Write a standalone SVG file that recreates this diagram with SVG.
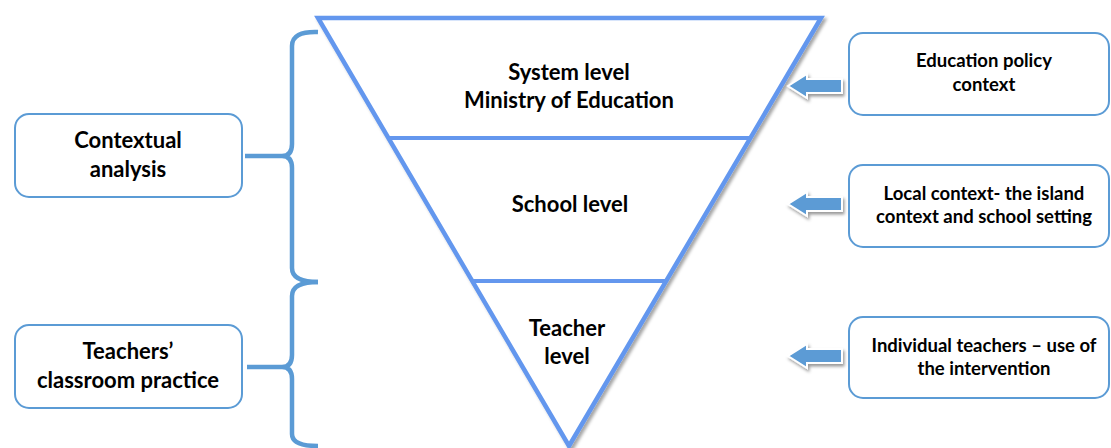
<svg xmlns="http://www.w3.org/2000/svg" width="1111" height="448" viewBox="0 0 1111 448">
  <defs>
    <filter id="shadow" x="-10%" y="-10%" width="130%" height="130%">
      <feDropShadow dx="2.5" dy="2.5" stdDeviation="1.8" flood-color="#000" flood-opacity="0.35"/>
    </filter>
    <filter id="ashadow" x="-30%" y="-40%" width="170%" height="200%">
      <feDropShadow dx="1.5" dy="2.5" stdDeviation="1.8" flood-color="#000" flood-opacity="0.4"/>
    </filter>
  </defs>
  <style>
    .box { fill: #fff; stroke: #5B9BD5; stroke-width: 2; }
    .tri { fill: #fff; stroke: #6497EE; stroke-width: 4.5; stroke-linejoin: miter; }
    .div { stroke: #6497EE; stroke-width: 4; fill: none; }
    .brace { fill: none; stroke: #5B9BD5; stroke-width: 4.5; stroke-linecap: butt; stroke-linejoin: round; }
    .arrow { fill: #5B9BD5; stroke: #fff; stroke-width: 2; }
    text { font-family: Lato, "Open Sans", "Liberation Sans", sans-serif; font-weight: bold; fill: #000; text-anchor: middle; }
    .big { font-size: 22px; }
    .small { font-size: 18.5px; }
  </style>

  <g id="pyramid">
    <polygon class="tri" points="318,18 821,18 569,446" filter="url(#shadow)"/>
    <line class="div" x1="388" y1="138" x2="750" y2="138"/>
    <line class="div" x1="472" y1="281" x2="666" y2="281"/>
  </g>
  <g id="system-level">
    <text class="big" x="569" y="80">System level</text>
    <text class="big" x="569" y="108">Ministry of Education</text>
  </g>
  <g id="school-level">
    <text class="big" x="570" y="212">School level</text>
  </g>
  <g id="teacher-level">
    <text class="big" x="567" y="336">Teacher</text>
    <text class="big" x="567" y="364">level</text>
  </g>

  <g id="contextual-analysis">
    <rect class="box" x="15" y="114" width="227" height="83" rx="14"/>
    <text class="big" x="128" y="148">Contextual</text>
    <text class="big" x="128" y="177">analysis</text>
  </g>
  <g id="classroom-practice">
    <rect class="box" x="15" y="325" width="227" height="83" rx="14"/>
    <text class="big" x="128" y="359">Teachers’</text>
    <text class="big" x="128" y="388">classroom practice</text>
  </g>

  <g id="education-policy">
    <rect class="box" x="849" y="33" width="260" height="82" rx="14"/>
    <text class="small" x="984" y="67">Education policy</text>
    <text class="small" x="984" y="91">context</text>
  </g>
  <g id="local-context">
    <rect class="box" x="849" y="165" width="260" height="82" rx="14"/>
    <text class="small" x="984" y="200">Local context- the island</text>
    <text class="small" x="984" y="223">context and school setting</text>
  </g>
  <g id="individual-teachers">
    <rect class="box" x="849" y="317" width="260" height="81" rx="14"/>
    <text class="small" x="984" y="352">Individual teachers – use of</text>
    <text class="small" x="984" y="375">the intervention</text>
  </g>

  <g id="connectors">
    <path class="brace" d="M318,32 Q292,31 292,46 L292,144 Q292,156 282,156 L245,156 M282,156 Q292,156 292,168 L292,268 Q292,282 318,282"/>
    <path class="brace" d="M318,282 Q292,282 292,296 L292,355 Q292,367 282,367 L247,367 M282,367 Q292,367 292,379 L292,434 Q292,446 318,446"/>
    <polygon class="arrow" filter="url(#ashadow)" points="788,86 807,74 807,79 842,79 842,93 807,93 807,98"/>
    <polygon class="arrow" filter="url(#ashadow)" points="788,204 807,192 807,197 842,197 842,211 807,211 807,216"/>
    <polygon class="arrow" filter="url(#ashadow)" points="788,356 807,344 807,349 842,349 842,363 807,363 807,368"/>
  </g>
</svg>
